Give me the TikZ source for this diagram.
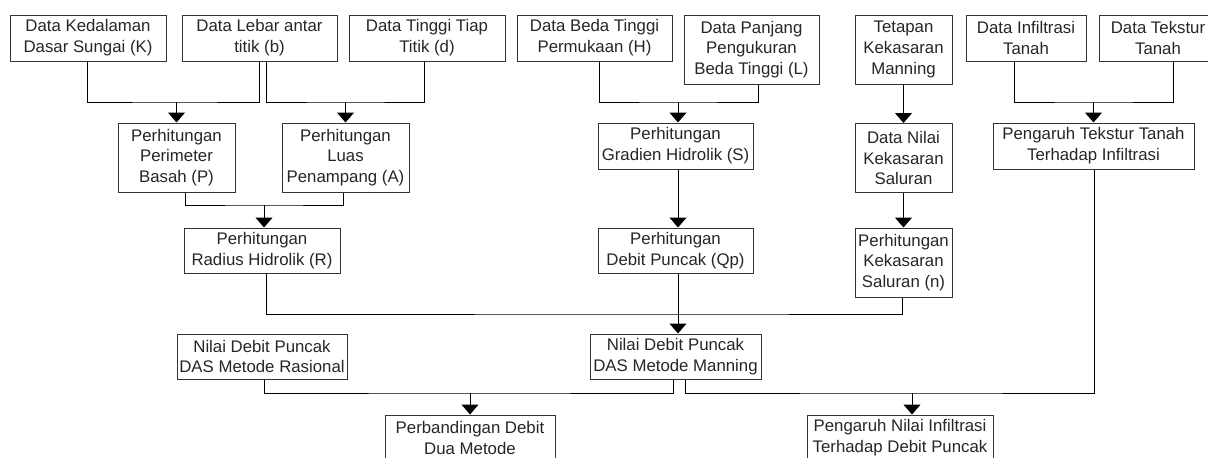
\documentclass[tikz,border=0pt]{standalone}
\usepackage{fontspec}
\setmainfont{Liberation Sans}
\usetikzlibrary{arrows.meta}
\begin{document}
\begin{tikzpicture}[x=1pt, y=-1pt, line width=1pt, >={Triangle[width=17pt,length=10pt]},
        box/.style={rectangle, draw=black!80, align=center, inner sep=1pt, text=black!85,
            font=\fontsize{16.8}{20.7}\selectfont, minimum height=46pt}]
        \useasboundingbox (0,0) rectangle (1208,458);
        % data row
        \node[box, minimum width=156pt] (K) at (88,38) {Data Kedalaman\\Dasar Sungai (K)};
        \node[box, minimum width=155pt] (b) at (259.5,38) {Data Lebar antar\\titik (b)};
        \node[box, minimum width=156pt] (d) at (427,38) {Data Tinggi Tiap\\Titik (d)};
        \node[box, minimum width=155pt] (H) at (594.5,38) {Data Beda Tinggi\\Permukaan (H)};
        \node[box, minimum width=135pt, minimum height=69pt] (L) at (751.5,49.5) {Data Panjang\\Pengukuran\\Beda Tinggi (L)};
        \node[box, minimum width=97pt, minimum height=69pt] (tm) at (903.5,49.5) {Tetapan\\Kekasaran\\Manning};
        \node[box, minimum width=120pt] (inf) at (1026,38) {Data Infiltrasi\\Tanah};
        \node[box, minimum width=118pt] (tek) at (1158,38) {Data Tekstur\\Tanah};
        % second row
        \node[box, minimum width=117pt, minimum height=69pt] (P) at (176.5,157.5) {Perhitungan\\Perimeter\\Basah (P)};
        \node[box, minimum width=127pt, minimum height=69pt] (A) at (345.5,157.5) {Perhitungan\\Luas\\Penampang (A)};
        \node[box, minimum width=155pt] (S) at (675.5,146) {Perhitungan\\Gradien Hidrolik (S)};
        \node[box, minimum width=97pt, minimum height=69pt] (kas) at (903.5,158) {Data Nilai\\Kekasaran\\Saluran};
        \node[box, minimum width=201pt] (pt) at (1093.5,146) {Pengaruh Tekstur Tanah\\Terhadap Infiltrasi};
        % third row
        \node[box, minimum width=156pt, minimum height=45pt] (R) at (262,250.5) {Perhitungan\\Radius Hidrolik (R)};
        \node[box, minimum width=155pt, minimum height=45pt] (Qp) at (675.5,250.5) {Perhitungan\\Debit Puncak (Qp)};
        \node[box, minimum width=97pt, minimum height=69pt] (n) at (903.5,262.5) {Perhitungan\\Kekasaran\\Saluran (n)};
        % results
        \node[box, minimum width=170pt, minimum height=45pt] (ras) at (262,356.5) {Nilai Debit Puncak\\DAS Metode Rasional};
        \node[box, minimum width=171pt, minimum height=45pt] (man) at (675.5,356.5) {Nilai Debit Puncak\\DAS Metode Manning};
        \node[box, minimum width=170pt] (band) at (470,438) {Perbandingan Debit\\Dua Metode};
        \node[box, minimum width=186pt] (pn) at (900,438) {Pengaruh Nilai Infiltrasi\\Terhadap Debit Puncak};
        % junctions
        \coordinate (j1) at (176.5,102);
        \coordinate (j2) at (345.5,102);
        \coordinate (j3) at (678,102);
        \coordinate (j4) at (1093.5,102);
        \coordinate (j5) at (264,205);
        \coordinate (j6) at (678,314);
        \coordinate (j7) at (470,393);
        \coordinate (j8) at (912,393);
        % connectors
        \draw ([xshift=-0.5pt]K.south) |- (j1) -| ([xshift=-0.5pt]b.south);
        \draw[->] (j1) -- (P);
        \draw ([xshift=6.5pt]b.south) |- (j2) -| ([xshift=-3pt]d.south);
        \draw[->] (j2) -- (A);
        \draw ([xshift=4.5pt]H.south) |- (j3) -| ([xshift=6.5pt]L.south);
        \draw[->] (j3) -- (S.north -| j3);
        \draw[->] (tm) -- (kas);
        \draw ([xshift=-12pt]inf.south) |- (j4) -| ([xshift=15pt]tek.south);
        \draw[->] (j4) -- (pt);
        \draw ([xshift=8.5pt]P.south) |- (j5) -| ([xshift=-2.5pt]A.south);
        \draw[->] (j5) -- (R.north -| j5);
        \draw[->] (S.south -| j3) -- (Qp.north -| j3);
        \draw[->] (kas) -- (n);
        \draw ([xshift=4pt]R.south) |- (j6) -| ([xshift=-1.5pt]n.south);
        \draw[->] (Qp.south -| j3) -- (man.north -| j3);
        \draw ([xshift=2pt]ras.south) |- (j7) -| ([xshift=-2.5pt]man.south);
        \draw[->] (j7) -- (band);
        \draw ([xshift=9.5pt]man.south) |- (j8) -| ([xshift=0.5pt]pt.south);
        \draw[->] (j8) -- (pn.north -| j8);
    \end{tikzpicture}
\end{document}
